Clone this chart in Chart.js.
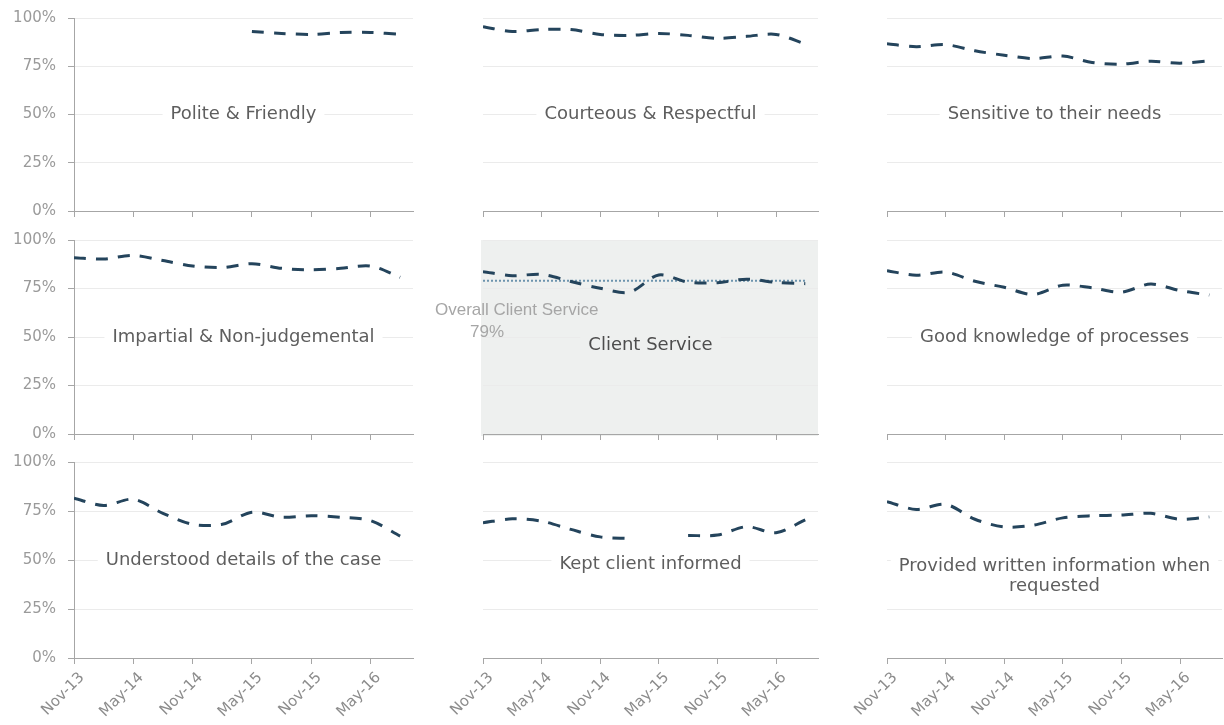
<!DOCTYPE html>
<html>
<head>
<meta charset="utf-8">
<script src="https://cdn.jsdelivr.net/npm/chart.js@4.4.1/dist/chart.umd.min.js"></script>
<style>
  html, body { margin: 0; padding: 0; background: #fff; }
  #wrap { position: relative; width: 1224px; height: 725px; overflow: hidden; }
  #wrap canvas { position: absolute; }
</style>
</head>
<body>
<div id="wrap"></div>
<script>
// survey periods (quarterly) and their position in months from Nov-13
const periods = ['Nov-13', 'Feb-14', 'May-14', 'Aug-14', 'Nov-14', 'Feb-15',
                 'May-15', 'Aug-15', 'Nov-15', 'Feb-16', 'May-16', 'Aug-16'];
const periodMonths = [0, 3, 6, 9, 12, 15, 18, 21, 24, 27, 30, 33];

// x axis ticks
const tickMonths = [0, 6, 12, 18, 24, 30];
const tickLabels = ['Nov-13', 'May-14', 'Nov-14', 'May-15', 'Nov-15', 'May-16'];

// % satisfied
const politeFriendly      = [null, null, null, null, null, null, 93, 92, 91.5, 92.5, 92.5, 91.5];
const courteousRespectful = [95.5, 93, 94, 94, 91.5, 91, 92, 91, 89.5, 90.5, 91.5, 86.5];
const sensitiveNeeds      = [86.7, 85.1, 86.2, 83, 80.7, 79, 80.3, 77, 76.1, 77.6, 76.6, 77.8];
const impartial           = [90.9, 90.2, 92.1, 89.4, 86.6, 85.8, 87.8, 85.4, 84.6, 85.4, 86.6, 80.8];
const clientService       = [83.7, 81.6, 82.3, 78.6, 75.1, 73.1, 82, 78.2, 78, 79.8, 78.2, 77.5];
const goodKnowledge       = [84.2, 81.8, 83.5, 78.7, 75.6, 71.9, 76.7, 75.3, 73.1, 77.3, 73.9, 71.6];
const understoodDetails   = [81.5, 77.8, 81, 73.8, 68.2, 68.2, 74.4, 71.8, 72.6, 71.8, 70.1, 62.2];
const keptInformed        = [69, 71, 69.8, 65.6, 61.8, 61, null, 62.5, 62.7, 67, 63.9, 70.5];
const providedWritten     = [79.8, 75.8, 78.4, 70.8, 66.9, 67.8, 71.5, 72.6, 72.9, 73.8, 70.8, 72];

const overallClientService = 79;

const panelTitles = [
  ['Polite & Friendly'], ['Courteous & Respectful'], ['Sensitive to their needs'],
  ['Impartial & Non-judgemental'], ['Client Service'], ['Good knowledge of processes'],
  ['Understood details of the case'], ['Kept client informed'],
  ['Provided written information when', 'requested']
];
const panelSeries = [
  politeFriendly, courteousRespectful, sensitiveNeeds,
  impartial, clientService, goodKnowledge,
  understoodDetails, keptInformed, providedWritten
];

// layout of the 3x3 grid (page pixels of each plot area)
const colEdges = [[74, 413], [483, 818], [887, 1222]];
const rowEdges = [[18, 211], [240, 434], [462, 658]];
// paddings are larger than the y tick label margin so the plot area stays put
const PAD_L = 70, PAD_R = 12, PAD_T = 26, PAD_B = 26, PAD_B_LAST = 70;
const X_MAX = 34.3;
const titleShift = [0, 0, 0, 0, 8, 0, 0, 4, 6];

const LINE_COLOR = '#24445c';
const AXIS_COLOR = '#a6a6a6';
const GRID_COLOR = '#ebebeb';
const FONT = 'DejaVu Sans';

// draws the panel background, the panel name and the overall note
const panelDecor = {
  id: 'panelDecor',
  beforeDraw(chart, args, opts) {
    if (!opts.background) return;
    const a = chart.chartArea;
    const ctx = chart.ctx;
    ctx.save();
    ctx.fillStyle = opts.background;
    ctx.fillRect(a.left - 2, a.top, a.width + 2, a.height + 2);
    ctx.restore();
  },
  beforeDatasetsDraw(chart, args, opts) {
    const { ctx, chartArea: a, scales } = chart;
    ctx.save();
    ctx.font = opts.font;
    ctx.textAlign = 'center';
    ctx.textBaseline = 'middle';
    const cx = (a.left + a.right) / 2;
    const cy = scales.y.getPixelForValue(50) + opts.dy;
    const lh = 20;
    ctx.fillStyle = opts.boxColor;
    opts.lines.forEach((line, i) => {
      const w = ctx.measureText(line).width;
      ctx.fillRect(cx - w / 2 - 8, cy + i * lh - 11, w + 16, 22);
    });
    ctx.fillStyle = opts.color;
    opts.lines.forEach((line, i) => ctx.fillText(line, cx, cy + i * lh));

    if (opts.notes) {
      const x0 = scales.x.getPixelForValue(periodMonths[0]);
      const y0 = scales.y.getPixelForValue(overallClientService);
      ctx.font = '17px "Liberation Sans"';
      ctx.textAlign = 'left';
      ctx.fillStyle = '#a6a6a6';
      opts.notes.forEach(n => ctx.fillText(n.text, x0 + n.dx, y0 + n.dy));
    }
    ctx.restore();
  }
};

const wrap = document.getElementById('wrap');

function makePanel(idx) {
  const col = idx % 3, row = Math.floor(idx / 3);
  const [x0, x1] = colEdges[col];
  const [y0, y1] = rowEdges[row];
  const padB = row === 2 ? PAD_B_LAST : PAD_B;
  const isCS = idx === 4;

  const canvas = document.createElement('canvas');
  canvas.width = (x1 - x0) + PAD_L + PAD_R;
  canvas.height = (y1 - y0) + PAD_T + padB;
  canvas.style.left = (x0 - PAD_L) + 'px';
  canvas.style.top = (y0 - PAD_T) + 'px';
  wrap.appendChild(canvas);

  const series = panelSeries[idx];
  const datasets = [{
    data: periodMonths.map((m, i) => ({ x: m, y: series[i] })),
    borderColor: LINE_COLOR,
    borderWidth: 3,
    borderDash: [12, 10],
    tension: 0.3,
    pointRadius: 0,
    fill: false
  }];
  if (isCS) {
    datasets.push({
      data: periodMonths.map(m => ({ x: m, y: overallClientService })),
      borderColor: '#6d94ae',
      borderWidth: 2,
      borderDash: [2, 2],
      pointRadius: 0,
      fill: false
    });
  }

  new Chart(canvas, {
    type: 'line',
    data: { datasets },
    options: {
      responsive: false,
      animation: false,
      layout: { padding: { top: PAD_T, right: PAD_R, left: 0, bottom: 0 } },
      plugins: {
        legend: { display: false },
        tooltip: { enabled: false },
        panelDecor: {
          lines: panelTitles[idx],
          dy: titleShift[idx],
          font: '18px "' + FONT + '"',
          color: isCS ? '#4d4d4d' : '#5e5e5e',
          boxColor: isCS ? '#eef0ef' : '#ffffff',
          background: isCS ? '#eef0ef' : null,
          notes: isCS ? [
            { text: 'Overall Client Service', dx: -48, dy: 30 },
            { text: overallClientService + '%', dx: -13, dy: 52 }
          ] : null
        }
      },
      scales: {
        x: {
          type: 'linear',
          min: 0,
          max: X_MAX,
          afterBuildTicks: s => { s.ticks = tickMonths.map(v => ({ value: v })); },
          afterFit: s => { s.height = padB; },
          grid: { drawOnChartArea: false, drawTicks: true, tickLength: 6, color: AXIS_COLOR },
          border: { color: AXIS_COLOR },
          ticks: {
            display: row === 2,
            autoSkip: false,
            minRotation: 45,
            maxRotation: 45,
            padding: 5,
            labelOffset: 8,
            color: '#8c8c8c',
            font: { family: FONT, size: 15 },
            callback: v => tickLabels[tickMonths.indexOf(v)]
          }
        },
        y: {
          min: 0,
          max: 100,
          afterFit: s => { s.width = PAD_L; },
          grid: { color: GRID_COLOR, drawTicks: col === 0, tickLength: 6, tickColor: AXIS_COLOR },
          border: { display: col === 0, color: AXIS_COLOR },
          ticks: {
            display: col === 0,
            stepSize: 25,
            padding: 12,
            color: '#9a9a9a',
            font: { family: FONT, size: 15 },
            callback: v => v + '%'
          }
        }
      }
    },
    plugins: [panelDecor]
  });
}

for (let i = 0; i < 9; i++) makePanel(i);
</script>
</body>
</html>
